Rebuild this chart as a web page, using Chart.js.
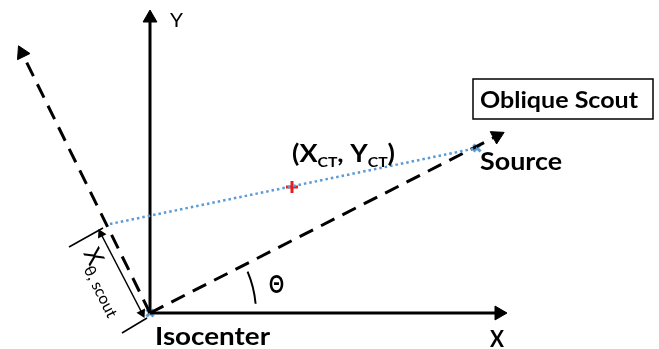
<!DOCTYPE html>
<html>
<head>
<meta charset="utf-8">
<script src="https://cdn.jsdelivr.net/npm/chart.js@4.4.0/dist/chart.umd.min.js"></script>
<style>
  body { margin: 0; background: #fff; }
  canvas { display: block; }
</style>
</head>
<body>
<canvas id="diagram" width="659" height="349"></canvas>
<script>
// diagram points, isocenter at 0,0 (y up)
const xAxisLine = [{ x: 0, y: 0 }, { x: 349, y: 0 }]
const yAxisLine = [{ x: 0, y: 0 }, { x: 0, y: 295 }]
const obliqueLine = [{ x: 0, y: 0 }, { x: 347, y: 177 }]
const detectorLine = [{ x: 0, y: 0 }, { x: -128, y: 260 }]
const rayLine = [{ x: -40, y: 89 }, { x: 327, y: 165 }]
const ctPoint = [{ x: 142, y: 126 }]
const markPoints = [{ x: 0, y: 0 }, { x: 327, y: 165 }]
const scoutArrow = [{ x: -49, y: 79 }, { x: -8, y: 0 }]
const scoutTickTop = [{ x: -81, y: 66 }, { x: -47, y: 85 }]
const scoutTickBottom = [{ x: -28, y: -20 }, { x: -3, y: -5 }]

const font = "Lato, 'Open Sans', sans-serif"
const ink = "#000"
const blue = "#5b9bd5"

// x, y = left end of baseline
const textLabels = [
  { text: "Y", x: 20, y: 286, size: 20, weight: "normal", width: 13 },
  { text: "X", x: 340, y: -34, size: 23, weight: "bold", width: 14 },
  { text: "Isocenter", x: 5, y: -32, size: 25, weight: "bold", width: 115 },
  { text: "Source", x: 330, y: 143, size: 25, weight: "bold", width: 82 },
  { text: "\u0398", x: 119, y: 20, size: 24, weight: "bold", width: 15 },
  { text: "Oblique Scout", x: 330, y: 205, size: 22, weight: "bold", width: 158 },
]

function line(data, extra) {
  return Object.assign({
    data: data,
    showLine: true,
    clip: false,
    borderColor: ink,
    backgroundColor: ink,
    borderWidth: 3,
    pointRadius: 0,
    pointHoverRadius: 0,
  }, extra)
}

function arrowEnd(rotation, size) {
  return {
    pointStyle: "triangle",
    pointRadius: [0, size],
    pointRotation: [0, rotation],
    pointBorderWidth: 1,
  }
}

const diagramPlugin = {
  id: "diagram",
  afterDatasetsDraw(chart) {
    const ctx = chart.ctx
    const sx = chart.scales.x
    const sy = chart.scales.y
    const px = v => sx.getPixelForValue(v)
    const py = v => sy.getPixelForValue(v)
    ctx.save()
    ctx.fillStyle = ink
    ctx.textAlign = "left"
    ctx.textBaseline = "alphabetic"

    textLabels.forEach(l => {
      ctx.font = l.weight + " " + l.size + "px " + font
      const k = l.width / ctx.measureText(l.text).width
      ctx.save()
      ctx.translate(px(l.x), py(l.y))
      ctx.scale(k, 1)
      ctx.fillText(l.text, 0, 0)
      ctx.restore()
    })

    // theta arc
    ctx.strokeStyle = ink
    ctx.lineWidth = 2
    ctx.beginPath()
    ctx.arc(px(0), py(0), 106, -23 * Math.PI / 180, -5 * Math.PI / 180)
    ctx.stroke()

    // (X_CT, Y_CT)
    const parts = [
      ["(X", 24, 0], ["CT", 14, 5], [", Y", 24, 0], ["CT", 14, 5], [")", 24, 0],
    ]
    let total = 0
    parts.forEach(p => {
      ctx.font = "bold " + p[1] + "px " + font
      total += ctx.measureText(p[0]).width
    })
    ctx.save()
    ctx.translate(px(142), py(151))
    ctx.scale(103 / total, 1)
    let cx = 0
    parts.forEach(p => {
      ctx.font = "bold " + p[1] + "px " + font
      ctx.fillText(p[0], cx, p[2])
      cx += ctx.measureText(p[0]).width
    })
    ctx.restore()

    // X theta, scout, rotated along the detector
    ctx.save()
    ctx.translate(px(-67), py(60))
    ctx.rotate(63.5 * Math.PI / 180)
    ctx.font = "normal 24px " + font
    ctx.fillText("X", 0, 0)
    const w = ctx.measureText("X").width
    ctx.font = "normal 16px " + font
    ctx.fillText("\u03b8, scout", w - 1, 7)
    ctx.restore()

    // oblique scout box
    ctx.lineWidth = 1.5
    ctx.strokeRect(473, 79, 180, 40)
    ctx.restore()
  },
}

new Chart(document.getElementById("diagram"), {
  type: "scatter",
  data: {
    datasets: [
      line(rayLine, { borderColor: blue, borderWidth: 2.5, borderDash: [2.5, 3] }),
      line(xAxisLine, arrowEnd(90, 8)),
      line(yAxisLine, arrowEnd(0, 8)),
      line(obliqueLine, Object.assign({ borderDash: [15, 9] }, arrowEnd(63, 8))),
      line(detectorLine, Object.assign({ borderDash: [15, 9] }, arrowEnd(-26, 8))),
      line(scoutTickTop, { borderWidth: 1.5 }),
      line(scoutTickBottom, { borderWidth: 1.5 }),
      line(scoutArrow, {
        borderWidth: 1.5,
        pointStyle: "triangle",
        pointRadius: 4,
        pointRotation: [-27, 153],
      }),
      {
        data: markPoints,
        clip: false,
        pointStyle: "crossRot",
        pointRadius: 5,
        borderColor: blue,
        pointBorderWidth: 3,
        showLine: false,
      },
      {
        data: ctPoint,
        clip: false,
        pointStyle: "cross",
        pointRadius: 6,
        borderColor: "#e02020",
        pointBorderWidth: 3,
        showLine: false,
      },
    ],
  },
  options: {
    responsive: false,
    animation: false,
    devicePixelRatio: 1,
    layout: { padding: 0, autoPadding: false },
    plugins: {
      legend: { display: false },
      tooltip: { enabled: false },
    },
    scales: {
      x: { type: "linear", min: -150, max: 509, display: false },
      y: { type: "linear", min: -36, max: 313, display: false },
    },
  },
  plugins: [diagramPlugin],
})
</script>
</body>
</html>
